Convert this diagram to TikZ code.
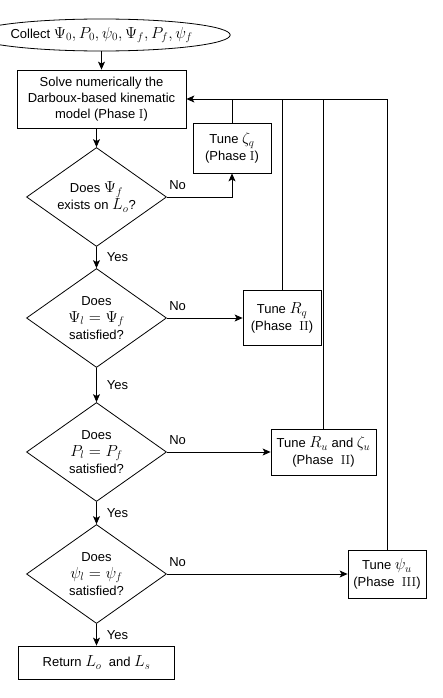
\documentclass[tikz,border=0pt]{standalone}
\usepackage[no-math]{fontspec}
\setmainfont{Liberation Sans}
\newfontfamily\romain{Latin Modern Roman}
\DeclareFontShape{OT1}{cmr}{m}{n}{<-7.5>cmr7<7.5-11>cmr10<11->cmr12}{}
\DeclareFontShape{OML}{cmm}{m}{it}{<-7.5>cmmi7<7.5-11>cmmi10<11->cmmi12}{}
\DeclareFontShape{OMS}{cmsy}{m}{n}{<-7.5>cmsy7<7.5->cmsy10}{}
\DeclareMathSizes{13}{16}{11}{8}
\usetikzlibrary{shapes.geometric,arrows.meta}
\begin{document}
\begin{tikzpicture}[x=1pt,y=-1pt,line width=0.8pt,>={Stealth[length=8pt,width=7pt,inset=2pt]},
	font=\fontsize{13}{17}\selectfont,
	boite/.style={draw,rectangle,align=center,inner sep=0pt},
	losange/.style={draw,diamond,aspect=1.45,align=center,inner sep=0pt,minimum width=140pt,minimum height=99pt},
	oui/.style={midway,right=10pt,inner sep=0pt},
	non/.style={pos=0,anchor=south west,xshift=2pt,yshift=7pt,inner sep=0pt}]
	\useasboundingbox (0,0) rectangle (443,698);
	
	\node[draw,ellipse,minimum width=197pt,minimum height=32pt,inner sep=0pt] (collect) at (101.5,35) {Collect $\Psi_0, P_0, \psi_0, \Psi_f, P_f, \psi_f$};
	\node[boite,minimum width=169pt,minimum height=58pt,font=\fontsize{13}{16}\selectfont] (solve) at (101.5,99) {Solve numerically the\\Darboux-based kinematic\\model (Phase {\romain I})};
	\node[losange] (d1) at (96.5,197) {Does $\Psi_f$\\exists on $L_o$?};
	\node[losange] (d2) at (96.5,318) {Does\\$\Psi_l = \Psi_f$\\satisfied?};
	\node[losange] (d3) at (96.5,452) {Does\\$P_l = P_f$\\satisfied?};
	\node[losange] (d4) at (96.5,574) {Does\\$\psi_l = \psi_f$\\satisfied?};
	\node[boite,minimum width=156pt,minimum height=33pt] (ret) at (96.5,662.5) {Return $L_o$\ \ and $L_s$};
	
	\node[boite,minimum width=78pt,minimum height=50pt] (zetaq) at (232,148) {Tune $\zeta_q$\\(Phase {\romain I})};
	\node[boite,minimum width=78pt,minimum height=55pt] (rq) at (282,318) {Tune $R_q$\\(Phase\ \ {\romain II})};
	\node[boite,minimum width=105pt,minimum height=46pt] (ru) at (323.5,452) {Tune $R_u$ and $\zeta_u$\\(Phase\ \ {\romain II})};
	\node[boite,minimum width=78pt,minimum height=48pt] (psiu) at (387,574) {Tune $\psi_u$\\(Phase\ \ {\romain III})};
	
	\draw[->] (collect) -- (solve);
	\draw[->] (solve.south -| d1.north) -- (d1.north);
	\draw[->] (d1.south) -- node[oui] {Yes} (d2.north);
	\draw[->] (d2.south) -- node[oui] {Yes} (d3.north);
	\draw[->] (d3.south) -- node[oui] {Yes} (d4.north);
	\draw[->] (d4.south) -- node[oui] {Yes} (ret.north);
	
	\draw[->] (d1.east) -| node[non] {No} (zetaq.south);
	\draw[->] (d2.east) -- node[non] {No} (rq.west);
	\draw[->] (d3.east) -- node[non] {No} (ru.west);
	\draw[->] (d4.east) -- node[non] {No} (psiu.west);
	
	% retours vers le modele
	\draw[->] (psiu.north) |- (solve.east);
	\draw (zetaq.north) -- (zetaq.north |- solve.east);
	\draw (rq.north) -- (rq.north |- solve.east);
	\draw (ru.north) -- (ru.north |- solve.east);
\end{tikzpicture}
\end{document}
